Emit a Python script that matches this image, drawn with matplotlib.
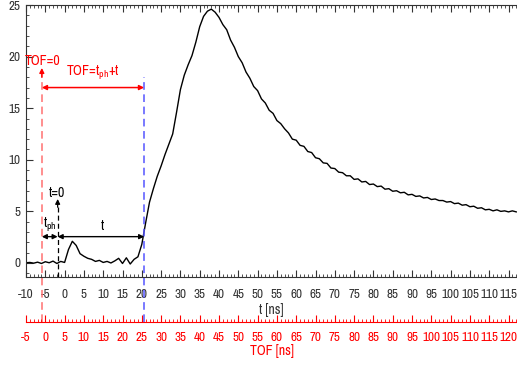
import numpy as np
import matplotlib
matplotlib.use('Agg')
import matplotlib.pyplot as plt
from matplotlib.ticker import MultipleLocator
from matplotlib import font_manager as fm

_installed = {f.name for f in fm.fontManager.ttflist}
_prefs = ['Liberation Sans Narrow', 'Arial Narrow', 'Archivo Narrow', 'IBM Plex Sans Condensed',
          'Open Sans Condensed', 'Liberation Sans', 'DejaVu Sans']
_fams = [f for f in _prefs if f in _installed] or ['DejaVu Sans']
plt.rcParams['font.family'] = _fams
plt.rcParams['mathtext.default'] = 'regular'
plt.rcParams['axes.unicode_minus'] = False

# ---- data ----
t_ns = np.arange(-10, 118, 1)
signal = [
    0.02, 0.05, -0.02, 0.08, -0.05, 0.12, 0.02, 0.18, -0.05, 0.15,      # -10..-1
    0.05, 1.3, 2.1, 1.7, 0.9, 0.65, 0.45, 0.35, 0.15, 0.25,             # 0..9
    0.05, 0.15, 0.0, 0.2, 0.45, -0.05, 0.5, -0.1, 0.35, 0.6,            # 10..19
    1.8, 3.9, 5.9, 7.2, 8.4, 9.4, 10.5, 11.5, 12.5, 14.6,               # 20..29
    16.8, 18.2, 19.2, 20.1, 21.4, 22.9, 23.9, 24.4, 24.6, 24.3,         # 30..39
    23.8, 23.1, 22.6, 21.6, 20.9, 20.0, 19.4, 18.5, 17.9, 17.1,         # 40..49
    16.7, 15.9, 15.5, 14.8, 14.5, 13.8, 13.5, 13.0, 12.6, 12.0,         # 50..59
    11.9, 11.4, 11.3, 10.8, 10.7, 10.2, 10.1, 9.7, 9.65, 9.2,           # 60..69
    9.15, 8.8, 8.75, 8.45, 8.45, 8.1, 8.15, 7.85, 7.9, 7.6,             # 70..79
    7.65, 7.4, 7.45, 7.15, 7.2, 6.95, 7.0, 6.8, 6.85, 6.6,              # 80..89
    6.65, 6.45, 6.5, 6.3, 6.35, 6.15, 6.2, 6.05, 6.05, 5.9,             # 90..99
    5.95, 5.75, 5.8, 5.6, 5.65, 5.45, 5.5, 5.3, 5.35, 5.15,             # 100..109
    5.2, 5.05, 5.15, 5.0, 5.05, 4.95, 5.05, 4.95,                       # 110..117
]
tof_offset = 5          # TOF axis = t + 5
x_tof0 = -5.9           # TOF = 0 marker (in t units)
x_t0 = -1.8             # t = 0 marker
x_start = 20.6          # signal start marker

fig = plt.figure(figsize=(5.17, 3.65), dpi=100)
ax = fig.add_axes([0.0503, 0.2411, 0.9497, 0.7452])
ax.plot(t_ns, signal, color='black', lw=1.0)
ax.set_xlim(-10, 117.2)
ax.set_ylim(-1.36, 25.0)

ax.xaxis.set_major_locator(MultipleLocator(5))
ax.xaxis.set_minor_locator(MultipleLocator(1))
ax.yaxis.set_major_locator(MultipleLocator(5))
ax.yaxis.set_minor_locator(MultipleLocator(1))
ax.tick_params(which='both', direction='in', top=True, right=False, color='#333333')
ax.tick_params(which='major', length=5, width=0.8)
ax.tick_params(which='minor', length=2.5, width=0.6)
ax.tick_params(axis='x', pad=8.5, labelsize=9.5, labelcolor='#333333')
ax.tick_params(axis='y', pad=4, labelsize=9.5, labelcolor='#333333')
ax.spines['right'].set_visible(False)
for s in ['left', 'bottom', 'top']:
    ax.spines[s].set_color('#333333')
ax.set_xlabel('t [ns]', fontsize=10, color='#333333', labelpad=2)

# ---- TOF axis ----
ax2 = fig.add_axes([0.0503, 0.1178, 0.9497, 0.0001])
ax2.set_xlim(-10 + tof_offset, 117.2 + tof_offset)
ax2.patch.set_visible(False)
for s in ['left', 'right', 'top']:
    ax2.spines[s].set_visible(False)
ax2.spines['bottom'].set_color('red')
ax2.set_yticks([])
ax2.xaxis.set_major_locator(MultipleLocator(5))
ax2.xaxis.set_minor_locator(MultipleLocator(1))
ax2.tick_params(which='both', direction='in', color='red', labelcolor='red')
ax2.tick_params(which='major', length=5, width=0.8, pad=7, labelsize=9.5)
ax2.tick_params(which='minor', length=2.5, width=0.6)
ax2.set_xlabel('TOF [ns]', fontsize=10, color='red', labelpad=1)

# ---- annotations ----
y_bot_ext = -5.7
ax.plot([x_tof0, x_tof0], [y_bot_ext, 18.4], ls=(0, (5, 3)), color='#ff7070', lw=1.1, clip_on=False)
ax.plot([x_start, x_start], [y_bot_ext, 18.0], ls=(0, (5, 3)), color='#5555ff', lw=1.1, clip_on=False)
ax.plot([x_t0, x_t0], [-1.36, 5.6], ls=(0, (4, 2.5)), color='black', lw=0.9)

ax.annotate('', xy=(x_tof0, 18.9), xytext=(x_tof0, 18.0),
            arrowprops=dict(arrowstyle='-|>', color='red', lw=1, mutation_scale=7, shrinkA=0, shrinkB=0))
ax.annotate('', xy=(x_t0, 6.2), xytext=(x_t0, 5.4),
            arrowprops=dict(arrowstyle='-|>', color='black', lw=0.9, mutation_scale=7, shrinkA=0, shrinkB=0))

ax.annotate('', xy=(x_tof0, 17.0), xytext=(x_start, 17.0),
            arrowprops=dict(arrowstyle='<|-|>', color='red', lw=1.1, mutation_scale=7, shrinkA=0, shrinkB=0))
ax.annotate('', xy=(x_tof0, 2.55), xytext=(x_t0, 2.55),
            arrowprops=dict(arrowstyle='<|-|>', color='black', lw=1.0, mutation_scale=7, shrinkA=0, shrinkB=0))
ax.annotate('', xy=(x_t0, 2.55), xytext=(x_start, 2.55),
            arrowprops=dict(arrowstyle='<|-|>', color='black', lw=1.0, mutation_scale=7, shrinkA=0, shrinkB=0))

ax.text(-5.6, 19.6, 'TOF=0', color='red', fontsize=10, ha='center', va='center')
ax.text(7.4, 18.4, 'TOF=t$_{ph}$+t', color='red', fontsize=10, ha='center', va='center')
ax.text(-2.0, 6.8, 't=0', color='black', fontsize=10, ha='center', va='center')
ax.text(-3.9, 3.7, 't$_{ph}$', color='black', fontsize=10, ha='center', va='center')
ax.text(9.7, 3.6, 't', color='black', fontsize=10, ha='center', va='center')

fig.savefig('out.png', dpi=100)
